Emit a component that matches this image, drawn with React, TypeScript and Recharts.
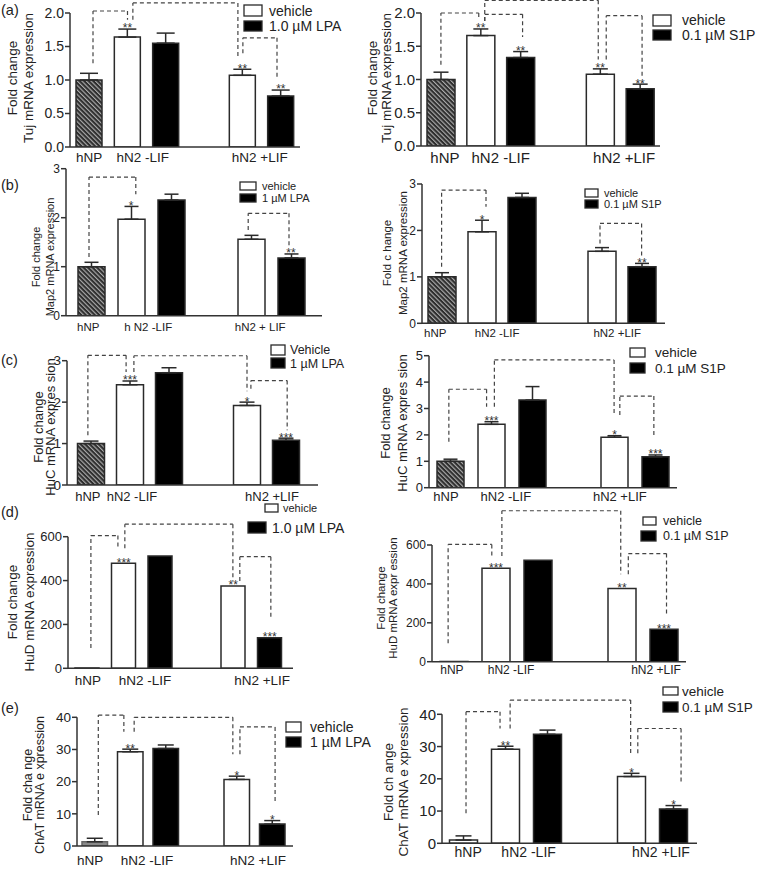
import React from 'react';
import {
  ComposedChart,
  Bar,
  Cell,
  XAxis,
  YAxis,
  ErrorBar,
  ReferenceLine,
  ReferenceDot,
} from 'recharts';

const FONT = '"Liberation Sans", Arial, Helvetica, sans-serif';
const INK = '#222';

// bar order: hNP, hN2 -LIF vehicle, hN2 -LIF treated, hN2 +LIF vehicle, hN2 +LIF treated
// slot 3 stays empty between the two hN2 groups
const BAR_SLOTS = [0, 1, 2, 4, 5];
const X_LABELS = ['hNP', 'hN2 -LIF', 'hN2 +LIF'];
const X_LABELS_B = ['hNP', 'h N2 -LIF', 'hN2 + LIF'];

const TICKS_2 = [0, 0.5, 1, 1.5, 2];
const TICKS_3 = [0, 1, 2, 3];
const TICKS_5 = [0, 1, 2, 3, 4, 5];
const TICKS_600 = [0, 200, 400, 600];
const TICKS_40 = [0, 10, 20, 30, 40];

// (a) Tuj
const TUJ_LPA = [1.0, 1.64, 1.55, 1.07, 0.76];
const TUJ_LPA_ERR = [0.1, 0.12, 0.15, 0.09, 0.09];
const TUJ_LPA_STARS = ['', '**', '', '**', '**'];
const TUJ_S1P = [1.0, 1.66, 1.33, 1.08, 0.86];
const TUJ_S1P_ERR = [0.11, 0.1, 0.09, 0.08, 0.07];
const TUJ_S1P_STARS = ['', '**', '**', '**', '**'];

// (b) Map2
const MAP2_LPA = [1.0, 1.97, 2.36, 1.56, 1.18];
const MAP2_LPA_ERR = [0.09, 0.26, 0.12, 0.08, 0.08];
const MAP2_LPA_STARS = ['', '*', '', '', '**'];
const MAP2_S1P = [1.0, 1.97, 2.71, 1.55, 1.22];
const MAP2_S1P_ERR = [0.09, 0.25, 0.09, 0.08, 0.07];
const MAP2_S1P_STARS = ['', '*', '', '', '**'];

// (c) HuC
const HUC_LPA = [1.0, 2.42, 2.71, 1.92, 1.08];
const HUC_LPA_ERR = [0.06, 0.09, 0.12, 0.08, 0.05];
const HUC_LPA_STARS = ['', '***', '', '*', '***'];
const HUC_S1P = [1.0, 2.4, 3.32, 1.91, 1.17];
const HUC_S1P_ERR = [0.08, 0.1, 0.51, 0.06, 0.07];
const HUC_S1P_STARS = ['', '***', '', '*', '***'];

// (d) HuD
const HUD_LPA = [1, 479, 512, 375, 139];
const HUD_LPA_STARS = ['', '***', '', '**', '***'];
const HUD_S1P = [1, 480, 521, 376, 167];
const HUD_S1P_STARS = ['', '***', '', '**', '***'];

// (e) ChAT
const CHAT_LPA = [1.3, 29.3, 30.3, 20.7, 6.8];
const CHAT_LPA_ERR = [1.1, 0.8, 1.1, 1.0, 1.1];
const CHAT_LPA_STARS = ['', '**', '', '*', '*'];
const CHAT_S1P = [1.0, 29.2, 33.8, 20.7, 10.6];
const CHAT_S1P_ERR = [1.3, 0.9, 1.3, 1.0, 1.1];
const CHAT_S1P_STARS = ['', '**', '', '*', '*'];

// comparison brackets: [x from, y from, y top, x to, y to] in axis units
const TUJ_LPA_BR = [
  [0.6, 1.25, 2.03, 1.5, 1.9],
  [1.64, 1.9, 2.15, 4.38, 1.34],
  [4.51, 1.4, 1.63, 5.4, 1.04],
];
const TUJ_S1P_BR = [
  [0.5, 1.22, 2.0, 1.45, 1.9],
  [1.6, 1.88, 1.98, 2.55, 1.64],
  [1.6, 1.88, 2.19, 4.45, 1.3],
  [4.65, 1.3, 1.96, 5.55, 1.04],
];
const MAP2_LPA_BR = [
  [0.45, 1.2, 2.83, 1.62, 2.48],
  [4.43, 1.75, 2.09, 5.45, 1.44],
];
const MAP2_S1P_BR = [
  [0.49, 1.22, 2.87, 1.6, 2.51],
  [4.45, 1.72, 2.15, 5.49, 1.45],
];
const HUC_LPA_BR = [
  [0.42, 1.2, 3.13, 1.4, 2.73],
  [1.6, 2.73, 3.12, 4.5, 2.26],
  [4.6, 2.32, 2.52, 5.53, 1.32],
];
const HUC_S1P_BR = [
  [0.46, 1.74, 3.73, 1.38, 3.07],
  [1.57, 3.07, 4.84, 4.49, 2.75],
  [4.63, 2.75, 3.47, 5.46, 2.0],
];
const HUD_LPA_BR = [
  [0.6, 92, 605, 1.34, 547],
  [1.53, 547, 657, 4.49, 398],
  [4.68, 398, 509, 5.53, 235],
];
const HUD_S1P_BR = [
  [0.36, 95, 603, 1.4, 543],
  [1.64, 543, 776, 4.47, 449],
  [4.65, 449, 556, 5.56, 245],
];
const CHAT_LPA_BR = [
  [0.6, 9.6, 40.7, 1.32, 35.5],
  [1.61, 35.5, 40.0, 4.39, 28.5],
  [4.59, 28.5, 37, 5.58, 13.6],
];
const CHAT_S1P_BR = [
  [0.56, 9.3, 40.8, 1.37, 35.6],
  [1.61, 35.6, 44.4, 4.48, 27.9],
  [4.65, 27.9, 35.6, 5.68, 19.1],
];

const Y_AXIS_W = 40;
const X_AXIS_H = 20;

type PanelCfg = {
  id: string;
  frame: number[];
  axisX: number;
  axisEnd: number;
  slotX0: number;
  slotX1: number;
  yTop: number;
  yZero: number;
  yMax: number;
  yTicks: number[];
  decimals: number;
  values: number[];
  errors: number[] | null;
  stars: string[];
  brackets: number[][];
  xLabels: string[];
  labelAt: number[];
  labelGap: number;
  labelFs: number;
  tickFs: number;
  barW: number;
  capW: number;
  hnp: 'hatch' | 'grey' | 'white';
  yLabel: string[];
  yLabelX: number[];
  yLabelY: number;
  yLabelFs: number;
  legend: string[];
  legendPos: number[][];
  letter?: [string, number, number];
};

const PANELS: PanelCfg[] = [
  {
    id: 'a1', frame: [0, 0, 380, 170], axisX: 70, axisEnd: 300, slotX0: 70, slotX1: 300,
    yTop: 13, yZero: 147, yMax: 2, yTicks: TICKS_2, decimals: 1,
    values: TUJ_LPA, errors: TUJ_LPA_ERR, stars: TUJ_LPA_STARS, brackets: TUJ_LPA_BR,
    xLabels: X_LABELS, labelAt: [0.5, 1.9, 4.95], labelGap: 5, labelFs: 13.5, tickFs: 14,
    barW: 26, capW: 9, hnp: 'hatch',
    yLabel: ['Fold change', 'Tuj mRNA expression'], yLabelX: [12, 28], yLabelY: 78, yLabelFs: 13.5,
    legend: ['vehicle', '1.0 \u00b5M LPA'],
    legendPos: [[244, 5, 18, 11, 269, 11, 14], [244, 21, 18, 10, 269, 26, 14]],
    letter: ['(a)', 1, 10],
  },
  {
    id: 'a2', frame: [365, 0, 399, 170], axisX: 421, axisEnd: 660, slotX0: 421, slotX1: 660,
    yTop: 13, yZero: 146, yMax: 2, yTicks: TICKS_2, decimals: 1,
    values: TUJ_S1P, errors: TUJ_S1P_ERR, stars: TUJ_S1P_STARS, brackets: TUJ_S1P_BR,
    xLabels: X_LABELS, labelAt: [0.6, 2.0, 5.1], labelGap: 6, labelFs: 15, tickFs: 15,
    barW: 28, capW: 7.5, hnp: 'hatch',
    yLabel: ['Fold change', 'Tuj mRNA expression'], yLabelX: [372, 386], yLabelY: 78, yLabelFs: 13.5,
    legend: ['vehicle', '0.1 \u00b5M S1P'],
    legendPos: [[653, 15, 18, 11, 682, 20, 14], [653, 30, 18, 10, 682, 35, 14]],
  },
  {
    id: 'b1', frame: [0, 160, 380, 185], axisX: 66, axisEnd: 322, slotX0: 71, slotX1: 311,
    yTop: 168.7, yZero: 315.7, yMax: 3, yTicks: TICKS_3, decimals: 0,
    values: MAP2_LPA, errors: MAP2_LPA_ERR, stars: MAP2_LPA_STARS, brackets: MAP2_LPA_BR,
    xLabels: X_LABELS_B, labelAt: [0.43, 1.93, 4.73], labelGap: 7, labelFs: 11.5, tickFs: 12,
    barW: 27, capW: 7, hnp: 'hatch',
    yLabel: ['Fold  change', 'Map2 mRNA expression'], yLabelX: [36, 49.5], yLabelY: 257, yLabelFs: 11,
    legend: ['vehicle', '1 \u00b5M LPA'],
    legendPos: [[240, 182, 16, 8, 262, 186, 11], [240, 194, 16, 8, 262, 198, 11]],
    letter: ['(b)', 1, 185],
  },
  {
    id: 'b2', frame: [365, 160, 399, 185], axisX: 422, axisEnd: 665, slotX0: 422, slotX1: 662,
    yTop: 184, yZero: 323.3, yMax: 3, yTicks: TICKS_3, decimals: 0,
    values: MAP2_S1P, errors: MAP2_S1P_ERR, stars: MAP2_S1P_STARS, brackets: MAP2_S1P_BR,
    xLabels: X_LABELS, labelAt: [0.33, 1.88, 4.88], labelGap: 6, labelFs: 11.5, tickFs: 12,
    barW: 28, capW: 7, hnp: 'hatch',
    yLabel: ['Fold c hange', 'Map2 mRNA expression'], yLabelX: [387, 403], yLabelY: 253, yLabelFs: 11.5,
    legend: ['vehicle', '0.1 \u00b5M S1P'],
    legendPos: [[585, 189, 13, 8, 604, 193, 11], [585, 200, 13, 8, 604, 204, 11]],
  },
  {
    id: 'c1', frame: [0, 335, 380, 175], axisX: 67, axisEnd: 318, slotX0: 71.5, slotX1: 305.5,
    yTop: 360.7, yZero: 485, yMax: 3, yTicks: TICKS_3, decimals: 0,
    values: HUC_LPA, errors: HUC_LPA_ERR, stars: HUC_LPA_STARS, brackets: HUC_LPA_BR,
    xLabels: X_LABELS, labelAt: [0.42, 1.55, 5.14], labelGap: 7, labelFs: 13, tickFs: 13.5,
    barW: 27, capW: 7.5, hnp: 'hatch',
    yLabel: ['Fold change', 'HuC mRNA expres sion'], yLabelX: [38, 50], yLabelY: 427, yLabelFs: 13,
    legend: ['Vehicle', '1 \u00b5M LPA'],
    legendPos: [[271, 345, 14, 10, 290, 349.5, 12.5], [271, 358, 14, 10, 290, 364, 12.5]],
    letter: ['(c)', 1, 360],
  },
  {
    id: 'c2', frame: [365, 335, 399, 175], axisX: 429, axisEnd: 677, slotX0: 430, slotX1: 676,
    yTop: 355.7, yZero: 487.7, yMax: 5, yTicks: TICKS_5, decimals: 0,
    values: HUC_S1P, errors: HUC_S1P_ERR, stars: HUC_S1P_STARS, brackets: HUC_S1P_BR,
    xLabels: X_LABELS, labelAt: [0.39, 1.85, 4.63], labelGap: 4.5, labelFs: 13, tickFs: 13,
    barW: 27, capW: 7, hnp: 'hatch',
    yLabel: ['Fold change', 'HuC mRNA expres sion'], yLabelX: [385, 402], yLabelY: 423, yLabelFs: 13,
    legend: ['vehicle', '0.1 \u00b5M S1P'],
    legendPos: [[630, 348, 15, 9, 655, 352, 13.5], [630, 363, 15, 10, 655, 368, 13.5]],
  },
  {
    id: 'd1', frame: [0, 500, 380, 190], axisX: 68, axisEnd: 293, slotX0: 69, slotX1: 288,
    yTop: 536.7, yZero: 668.3, yMax: 600, yTicks: TICKS_600, decimals: 0,
    values: HUD_LPA, errors: null, stars: HUD_LPA_STARS, brackets: HUD_LPA_BR,
    xLabels: X_LABELS, labelAt: [0.52, 2.08, 5.29], labelGap: 7, labelFs: 13.5, tickFs: 13,
    barW: 24, capW: 7, hnp: 'white',
    yLabel: ['Fold change', 'HuD mRNA expression'], yLabelX: [12, 29], yLabelY: 602, yLabelFs: 13.5,
    legend: ['vehicle', '1.0 \u00b5M LPA'],
    legendPos: [[265, 504, 13, 8, 283, 508, 11], [248, 522, 18, 11, 272, 527.5, 14]],
    letter: ['(d)', 1, 512],
  },
  {
    id: 'd2', frame: [365, 500, 399, 190], axisX: 432, axisEnd: 686, slotX0: 433, slotX1: 685,
    yTop: 545, yZero: 661.7, yMax: 600, yTicks: TICKS_600, decimals: 0,
    values: HUD_S1P, errors: null, stars: HUD_S1P_STARS, brackets: HUD_S1P_BR,
    xLabels: X_LABELS, labelAt: [0.45, 1.86, 5.31], labelGap: 4, labelFs: 12, tickFs: 12,
    barW: 28, capW: 7, hnp: 'white',
    yLabel: ['Fold change', 'HuD mRNA expr ession'], yLabelX: [381, 393], yLabelY: 598, yLabelFs: 11.5,
    legend: ['vehicle', '0.1 \u00b5M S1P'],
    legendPos: [[643, 517, 13, 8, 663, 521, 12.5], [641, 531, 15, 10, 663, 536, 12.5]],
  },
  {
    id: 'e1', frame: [0, 680, 380, 189], axisX: 77, axisEnd: 293, slotX0: 77, slotX1: 290,
    yTop: 717.3, yZero: 846, yMax: 40, yTicks: TICKS_40, decimals: 0,
    values: CHAT_LPA, errors: CHAT_LPA_ERR, stars: CHAT_LPA_STARS, brackets: CHAT_LPA_BR,
    xLabels: X_LABELS, labelAt: [0.37, 1.97, 5.1], labelGap: 9, labelFs: 13.5, tickFs: 13.5,
    barW: 25.5, capW: 8, hnp: 'grey',
    yLabel: ['Fold cha nge', 'ChAT mRNA e xpression'], yLabelX: [28, 40], yLabelY: 785, yLabelFs: 12.5,
    legend: ['vehicle', '1 \u00b5M LPA'],
    legendPos: [[286, 722, 15, 10, 310, 727, 14], [286, 737, 15, 10, 310, 742, 14]],
    letter: ['(e)', 1, 708],
  },
  {
    id: 'e2', frame: [365, 680, 399, 189], axisX: 442, axisEnd: 697, slotX0: 442.5, slotX1: 694.5,
    yTop: 714.3, yZero: 843.3, yMax: 40, yTicks: TICKS_40, decimals: 0,
    values: CHAT_S1P, errors: CHAT_S1P_ERR, stars: CHAT_S1P_STARS, brackets: CHAT_S1P_BR,
    xLabels: X_LABELS, labelAt: [0.61, 2.05, 5.2], labelGap: 4, labelFs: 14, tickFs: 15,
    barW: 28, capW: 8, hnp: 'white',
    yLabel: ['Fold ch ange', 'ChAT mRNA e xpression'], yLabelX: [388, 403], yLabelY: 782, yLabelFs: 13.5,
    legend: ['vehicle', '0.1 \u00b5M S1P'],
    legendPos: [[663, 687, 15, 8, 682, 691, 13.5], [663, 702, 15, 10, 682, 707, 13.5]],
  },
];

const dash = { stroke: '#444', strokeWidth: 1.2, strokeDasharray: '4 3' };

function Panel({ p }: { p: PanelCfg }) {
  const [fl, ft, fw, fh] = p.frame;
  const margin = {
    top: p.yTop - ft,
    right: fl + fw - p.axisEnd,
    bottom: ft + fh - p.yZero - X_AXIS_H,
    left: p.axisX - fl - Y_AXIS_W,
  };
  const rows = p.values.map((v, i) => ({
    x: BAR_SLOTS[i] + 0.5,
    value: v,
    err: p.errors ? [0, p.errors[i]] : null,
  }));
  const hatchId = `hatch-${p.id}`;
  const fillFor = (i: number) => {
    if (i === 0) {
      if (p.hnp === 'hatch') return `url(#${hatchId})`;
      if (p.hnp === 'grey') return '#8a8a8a';
      return '#fff';
    }
    return i === 2 || i === 4 ? '#000' : '#fff';
  };

  return (
    <div style={{ position: 'absolute', left: fl, top: ft, width: fw, height: fh }}>
      <ComposedChart width={fw} height={fh} data={rows} margin={margin}>
        <defs>
          <pattern
            id={hatchId}
            patternUnits="userSpaceOnUse"
            width="3.2"
            height="3.2"
            patternTransform="rotate(-45)"
          >
            <rect width="3.2" height="3.2" fill="#2e2e2e" />
            <line x1="0.6" y1="0" x2="0.6" y2="3.2" stroke="#bdbdbd" strokeWidth="1" />
          </pattern>
        </defs>
        <XAxis
          type="number"
          dataKey="x"
          domain={[0, 6]}
          allowDataOverflow
          ticks={p.labelAt}
          interval={0}
          tickFormatter={(v: number) => p.xLabels[p.labelAt.indexOf(v)] ?? ''}
          padding={{ left: p.slotX0 - p.axisX, right: p.axisEnd - p.slotX1 }}
          height={X_AXIS_H}
          tickLine={false}
          tickSize={p.labelGap}
          tickMargin={0}
          axisLine={{ stroke: '#333', strokeWidth: 1.5 }}
          tick={{ fill: INK, fontSize: p.labelFs, fontFamily: FONT }}
        />
        <YAxis
          type="number"
          domain={[0, p.yMax]}
          allowDataOverflow
          ticks={p.yTicks}
          interval={0}
          width={Y_AXIS_W}
          tickSize={5}
          tickMargin={1}
          tickFormatter={(v: number) => v.toFixed(p.decimals)}
          axisLine={{ stroke: '#333', strokeWidth: 1.5 }}
          tickLine={{ stroke: '#333', strokeWidth: 1.5 }}
          tick={{ fill: INK, fontSize: p.tickFs, fontFamily: FONT }}
        />
        <Bar dataKey="value" barSize={p.barW} isAnimationActive={false}>
          {rows.map((_, i) => (
            <Cell
              key={`cell-${i}`}
              fill={fillFor(i)}
              stroke={i === 0 && p.hnp === 'grey' ? '#666' : '#2a2a2a'}
              strokeWidth={1.5}
            />
          ))}
          {p.errors && (
            <ErrorBar
              dataKey="err"
              width={p.capW}
              stroke="#2a2a2a"
              strokeWidth={1.5}
              isAnimationActive={false}
            />
          )}
        </Bar>
        {p.brackets.map((b, k) => [
          <ReferenceLine
            key={`b${k}-up`}
            segment={[{ x: b[0], y: b[1] }, { x: b[0], y: b[2] }]}
            ifOverflow="visible"
            {...dash}
          />,
          <ReferenceLine
            key={`b${k}-top`}
            segment={[{ x: b[0], y: b[2] }, { x: b[3], y: b[2] }]}
            ifOverflow="visible"
            {...dash}
          />,
          <ReferenceLine
            key={`b${k}-down`}
            segment={[{ x: b[3], y: b[2] }, { x: b[3], y: b[4] }]}
            ifOverflow="visible"
            {...dash}
          />,
        ])}
        {rows.map((r, i) =>
          p.stars[i] ? (
            <ReferenceDot
              key={`star-${i}`}
              x={r.x}
              y={r.value + (p.errors ? p.errors[i] : 0)}
              r={0}
              ifOverflow="visible"
              shape={(s: any) => (
                <text
                  x={s.cx}
                  y={s.cy + 3.4}
                  textAnchor="middle"
                  fontSize={12}
                  fontFamily={FONT}
                  fill="#333"
                >
                  {p.stars[i]}
                </text>
              )}
            />
          ) : null,
        )}
        {p.yLabel.map((t, k) => {
          const x = p.yLabelX[k] - fl;
          const y = p.yLabelY - ft;
          return (
            <text
              key={`yl-${k}`}
              x={x}
              y={y}
              transform={`rotate(-90 ${x} ${y})`}
              textAnchor="middle"
              dominantBaseline="central"
              fontSize={p.yLabelFs}
              fontFamily={FONT}
              fill={INK}
            >
              {t}
            </text>
          );
        })}
        {p.legend.map((t, k) => {
          const [bx, by, bw, bh, tx, ty, fs] = p.legendPos[k];
          return (
            <g key={`lg-${k}`}>
              <rect
                x={bx - fl}
                y={by - ft}
                width={bw}
                height={bh}
                fill={k === 0 ? '#fff' : '#000'}
                stroke="#2a2a2a"
                strokeWidth={1.3}
              />
              <text
                x={tx - fl}
                y={ty - ft}
                dominantBaseline="central"
                fontSize={fs}
                fontFamily={FONT}
                fill={INK}
              >
                {t}
              </text>
            </g>
          );
        })}
        {p.letter && (
          <text
            x={p.letter[1] - fl}
            y={p.letter[2] - ft}
            dominantBaseline="central"
            fontSize={14.5}
            fontFamily={FONT}
            fill={INK}
          >
            {p.letter[0]}
          </text>
        )}
      </ComposedChart>
    </div>
  );
}

export default function App() {
  return (
    <div
      style={{
        position: 'absolute',
        left: 0,
        top: 0,
        width: 764,
        height: 869,
        background: '#fff',
        fontFamily: FONT,
      }}
    >
      {PANELS.map((p) => (
        <Panel key={p.id} p={p} />
      ))}
    </div>
  );
}
